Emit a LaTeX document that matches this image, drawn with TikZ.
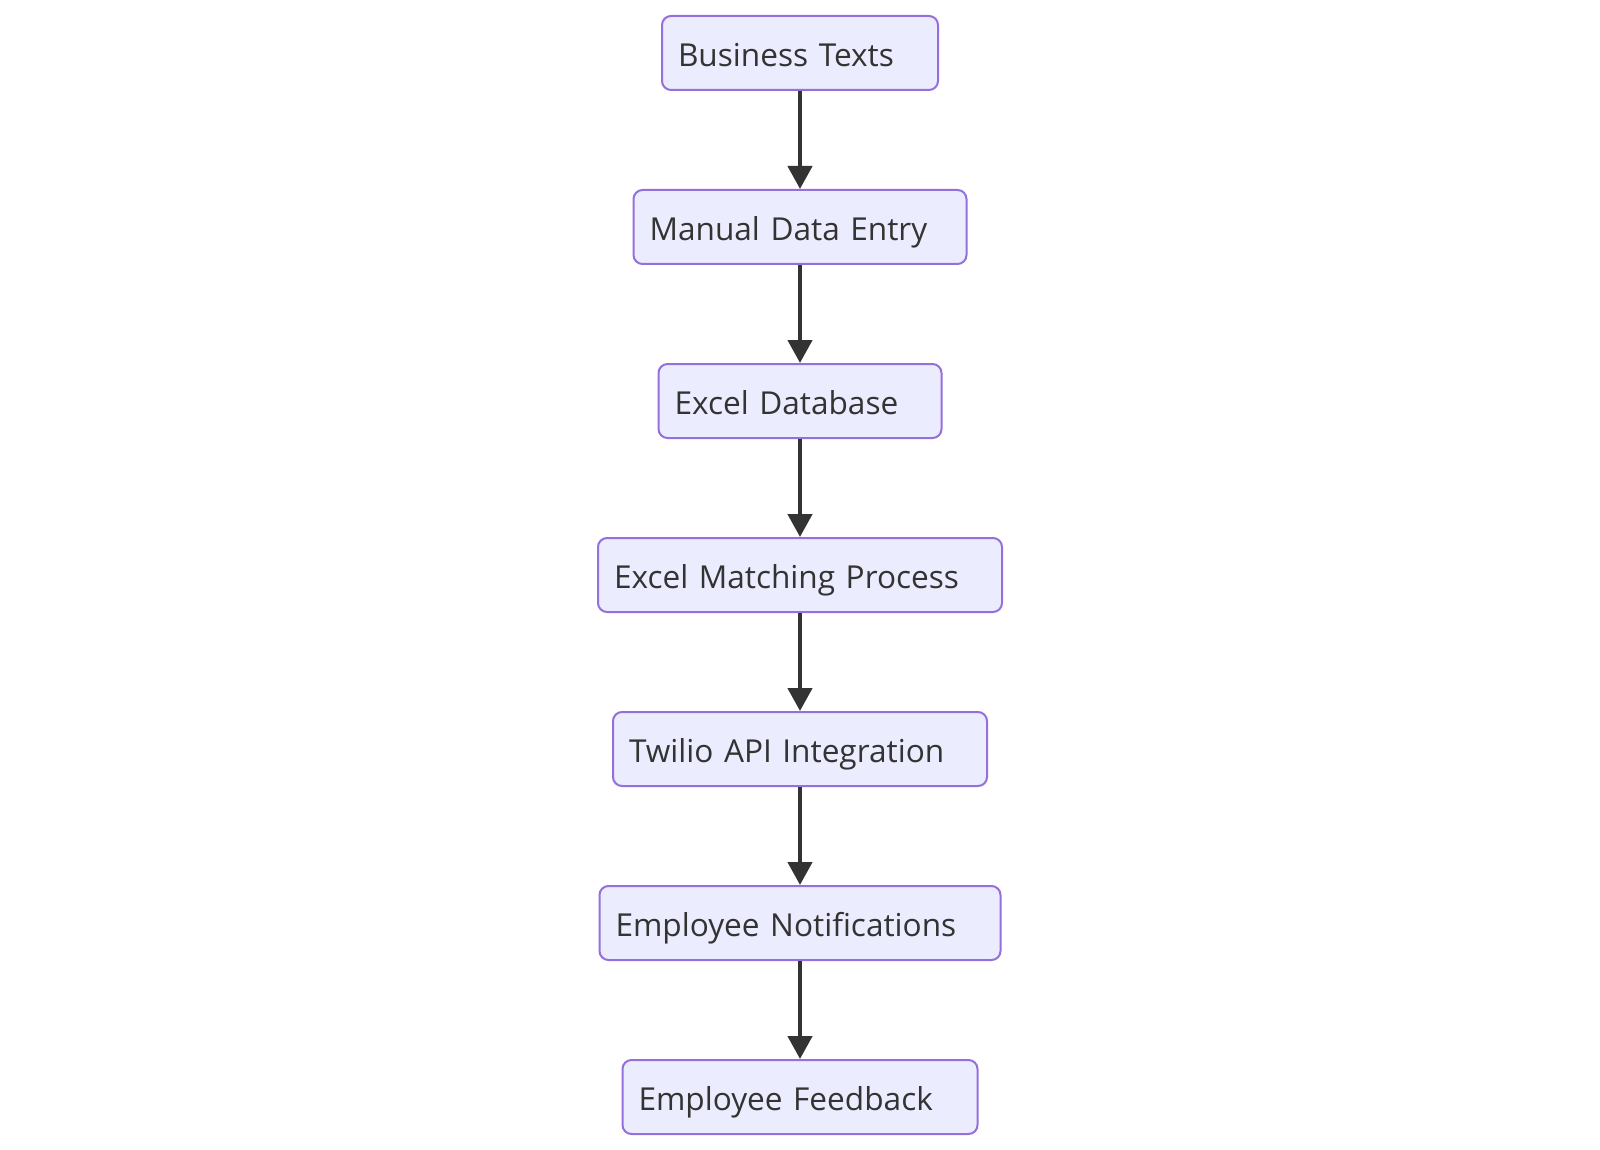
\documentclass[tikz,border=0pt]{standalone}
\usepackage{fontspec}
\setmainfont{Open Sans}
\usetikzlibrary{arrows.meta}
\definecolor{boxfill}{HTML}{ECECFF}
\definecolor{boxline}{HTML}{9370DB}
\definecolor{ink}{HTML}{333333}
\begin{document}
\begin{tikzpicture}[x=1pt,y=-1pt,
  box/.style={draw=boxline, fill=boxfill, line width=2pt, rounded corners=9pt,
    minimum height=74pt, inner xsep=16pt, inner ysep=0pt, align=left,
    text=ink, font=\fontsize{31.6}{36}\selectfont, text depth=0pt, text height=27pt},
  flow/.style={draw=ink, line width=4.5pt, -{Triangle[width=24pt,length=23pt]}}]
\useasboundingbox (0,0) rectangle (1600,1150);
\fill[white] (0,0) rectangle (1600,1150);
\node[box, text width=276pt-32pt] (a) at (800,53) {Business Texts};
\node[box, text width=333pt-32pt] (b) at (800,227) {Manual Data Entry};
\node[box, text width=283pt-32pt] (c) at (800,401) {Excel Database};
\node[box, text width=404pt-32pt] (d) at (800,575) {Excel Matching Process};
\node[box, text width=374pt-32pt] (e) at (800,749) {Twilio API Integration};
\node[box, text width=401pt-32pt] (f) at (800,923) {Employee Notifications};
\node[box, text width=355pt-32pt] (g) at (800,1097) {Employee Feedback};
\draw[flow] (a.south) -- (b.north);
\draw[flow] (b.south) -- (c.north);
\draw[flow] (c.south) -- (d.north);
\draw[flow] (d.south) -- (e.north);
\draw[flow] (e.south) -- (f.north);
\draw[flow] (f.south) -- (g.north);
\end{tikzpicture}
\end{document}
